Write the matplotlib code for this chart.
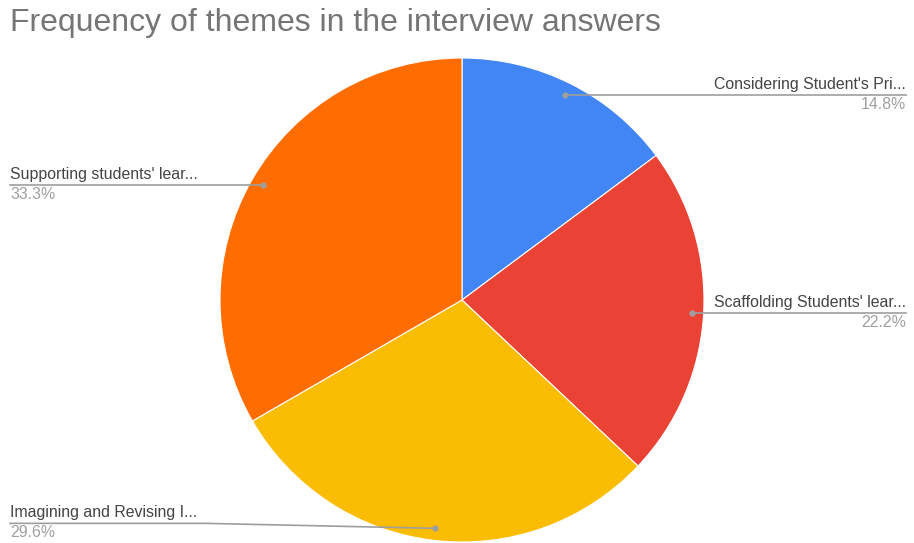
import matplotlib
matplotlib.use("Agg")
import matplotlib.pyplot as plt
import numpy as np

title = "Frequency of themes in the interview answers"
labels = ["Considering Student's Pri...", "Scaffolding Students' lear...",
          "Imagining and Revising I...", "Supporting students' lear..."]
values = [4, 6, 8, 9]
pct_labels = ["14.8%", "22.2%", "29.6%", "33.3%"]
colors = ["#4285F4", "#EA4335", "#FBBC04", "#FF6D01"]

W, H = 914, 543
fig = plt.figure(figsize=(W / 100, H / 100), dpi=100)
ax = fig.add_axes([0, 0, 1, 1])

cx, cy, r = 462, 300, 242
wedges, _ = ax.pie(values, colors=colors, startangle=-90, counterclock=True,
                   center=(cx, cy), radius=r, frame=True,
                   wedgeprops=dict(edgecolor="white", linewidth=0.8))
ax.set_xlim(0, W)
ax.set_ylim(H, 0)
ax.set_aspect("equal")
ax.axis("off")

fam = ["Liberation Sans", "DejaVu Sans"]
fig.text(10 / W, 1 - 23 / H, title, fontsize=23, color="#757575",
         ha="left", va="center", family=fam)

total = sum(values)
cum = np.cumsum([0] + values)
frac = 0.95
line_color = "#9e9e9e"
fs = 11.4
for i, (lab, pct) in enumerate(zip(labels, pct_labels)):
    mid = (cum[i] + cum[i + 1]) / 2 / total * 2 * np.pi
    dx = np.sin(mid)
    dy = -np.cos(mid)
    px = cx + frac * r * dx
    py = cy + frac * r * dy
    if dx >= 0:
        x_end = 906
        ax.plot([px, x_end], [py, py], color=line_color, lw=1.2, zorder=3)
        ax.plot(px, py, "o", color=line_color, ms=3.5, zorder=4)
        ax.text(x_end, py - 3, lab, ha="right", va="bottom", fontsize=fs,
                color="#444444", family=fam)
        ax.text(x_end, py + 2, pct, ha="right", va="top", fontsize=fs,
                color="#a0a0a0", family=fam)
    else:
        x_end = 10
        if py > 500:
            ly = py - 5
            ax.plot([x_end, 205, px], [ly, ly, py], color=line_color, lw=1.2, zorder=3)
        else:
            ly = py
            ax.plot([x_end, px], [ly, py], color=line_color, lw=1.2, zorder=3)
        ax.plot(px, py, "o", color=line_color, ms=3.5, zorder=4)
        ax.text(x_end, ly - 3, lab, ha="left", va="bottom", fontsize=fs,
                color="#444444", family=fam)
        ax.text(x_end, ly + 2, pct, ha="left", va="top", fontsize=fs,
                color="#a0a0a0", family=fam)

fig.savefig("out.png", dpi=100, facecolor="white")
